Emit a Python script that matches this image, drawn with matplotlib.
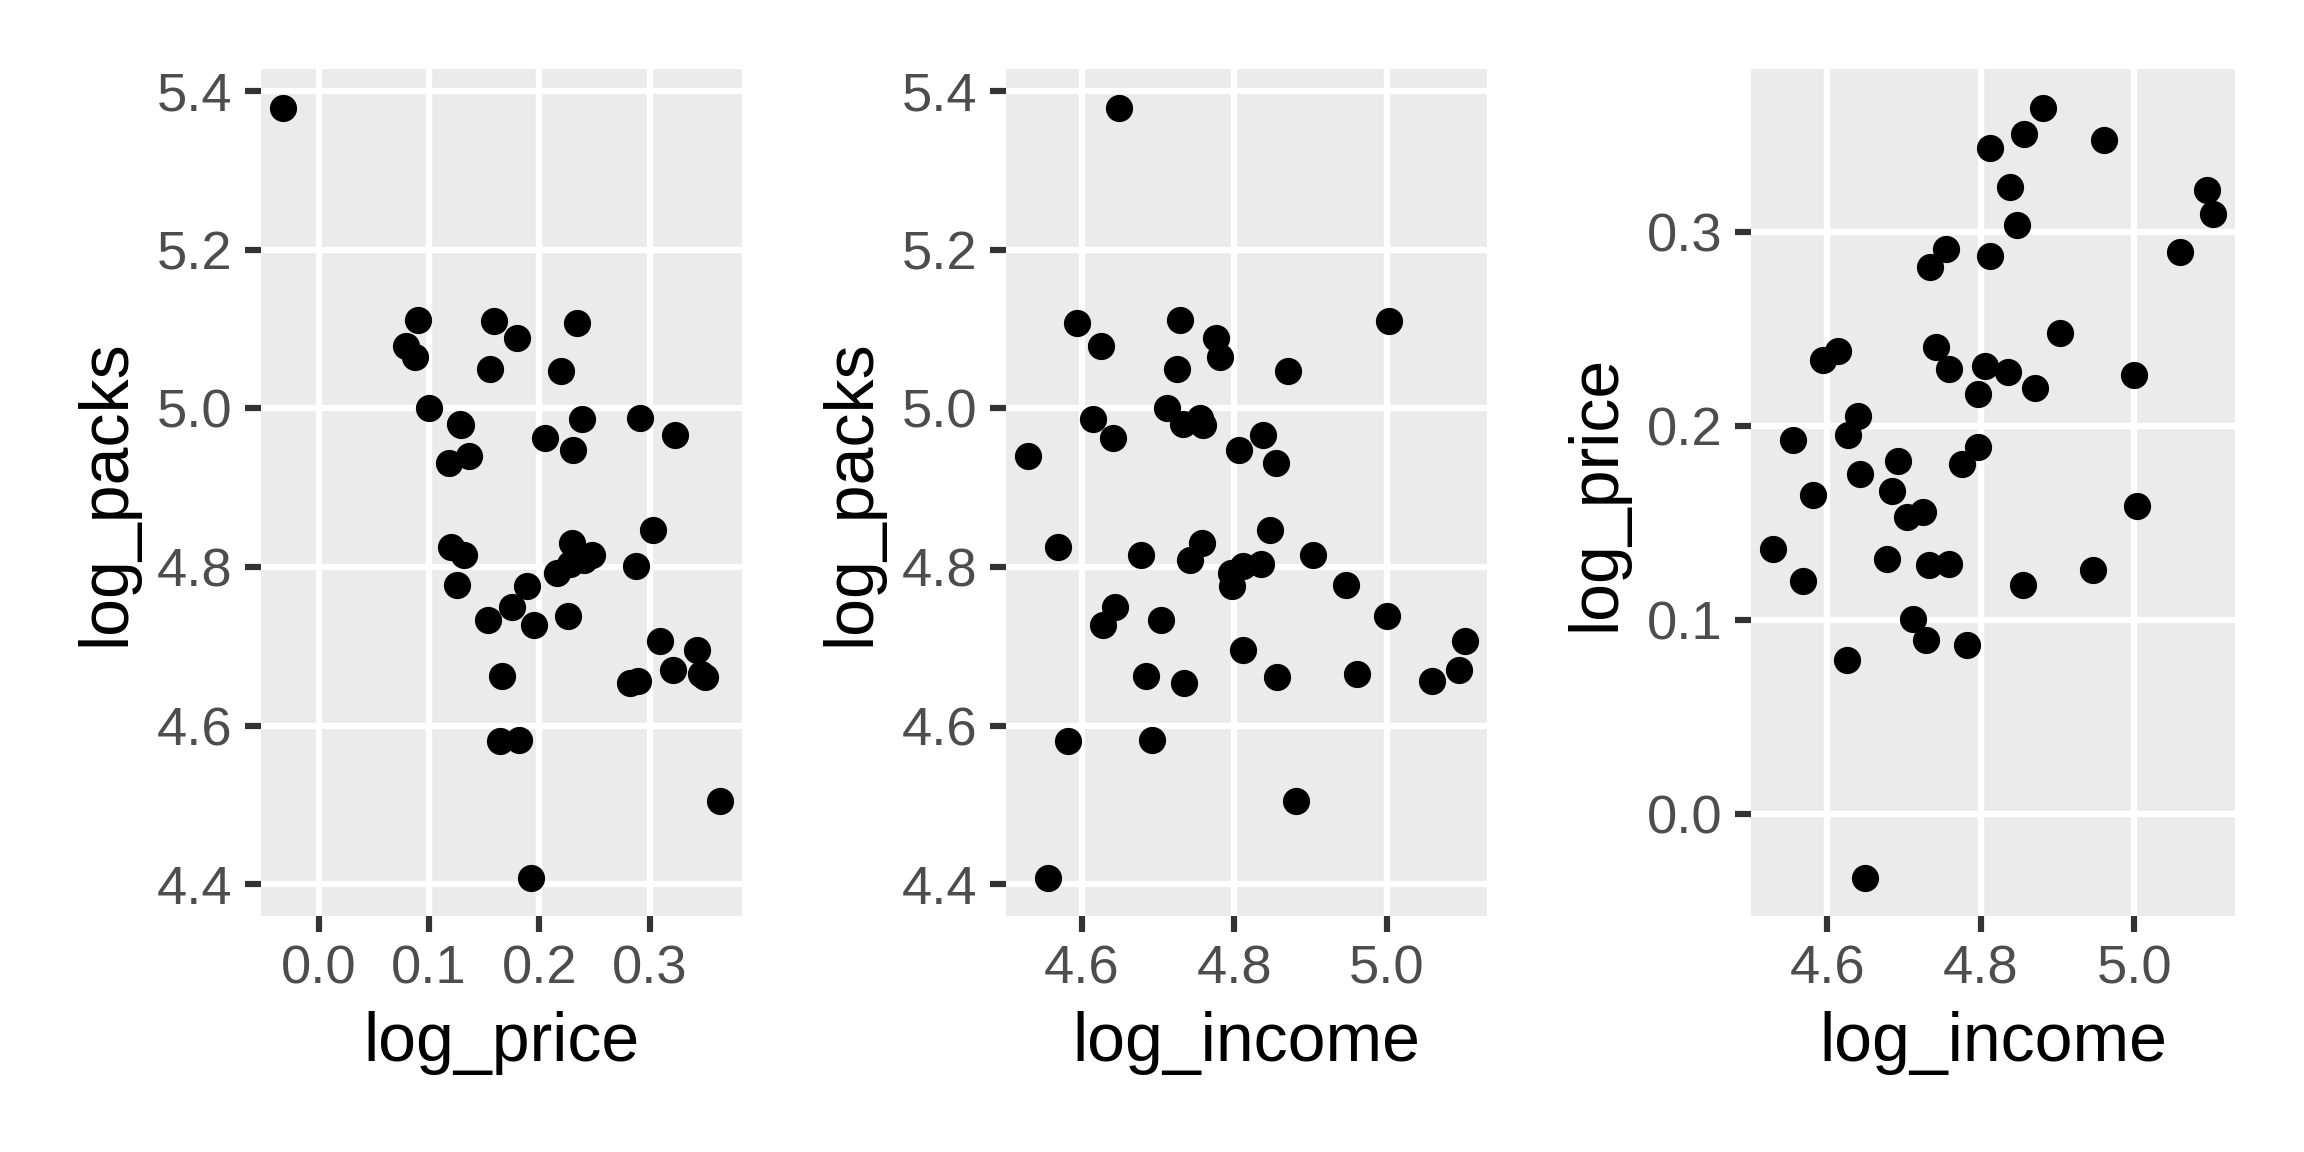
import numpy as np
import matplotlib
matplotlib.use("Agg")
import matplotlib.pyplot as plt

plt.rcParams['font.family'] = ['Liberation Sans', 'DejaVu Sans']

# CigarettesB-like data (46 states)
log_packs = [4.96213, 4.66312, 5.10709, 4.50449, 4.66983, 5.04705, 4.65637, 4.80081,
             4.97974, 4.74902, 4.81445, 5.11129, 4.80857, 4.79263, 5.37906, 4.98602,
             4.98722, 4.77751, 4.73877, 4.94744, 4.69589, 4.93990, 5.06430, 4.73313,
             4.77558, 4.96642, 5.10990, 4.70633, 4.58107, 4.66496, 4.58237, 4.97952,
             4.72720, 4.80363, 4.84693, 5.07801, 4.81545, 5.04939, 4.65398, 4.40859,
             5.08799, 4.93065, 4.66134, 4.82454, 4.83026, 5.00087]
log_price = [0.20487, 0.16640, 0.23406, 0.36399, 0.32149, 0.21929, 0.28946, 0.28733,
             0.12826, 0.17541, 0.24806, 0.08992, 0.24081, 0.21642, -0.03260, 0.23856,
             0.29106, 0.12575, 0.22613, 0.23067, 0.34297, 0.13638, 0.08731, 0.15303,
             0.18907, 0.32304, 0.15852, 0.30901, 0.16458, 0.34701, 0.18197, 0.12889,
             0.19554, 0.22784, 0.30324, 0.07944, 0.13139, 0.15547, 0.28196, 0.19260,
             0.18018, 0.11818, 0.35053, 0.12008, 0.22954, 0.10029]
log_income = [4.64039, 4.68389, 4.59435, 4.88147, 5.09472, 4.87087, 5.05960, 4.81155,
              4.73299, 4.64307, 4.90387, 4.72916, 4.74211, 4.79613, 4.64937, 4.61461,
              4.75501, 4.94692, 4.99998, 4.80620, 4.81207, 4.52938, 4.78189, 4.70417,
              4.79671, 4.83816, 5.00319, 5.10268, 4.58202, 4.96075, 4.69163, 4.75875,
              4.62730, 4.83516, 4.84670, 4.62549, 4.67747, 4.72525, 4.73437, 4.55586,
              4.77578, 4.85490, 4.85645, 4.56859, 4.75826, 4.71169]

price_ticks = [0.0, 0.1, 0.2, 0.3]
packs_ticks = [4.4, 4.6, 4.8, 5.0, 5.2, 5.4]
income_ticks = [4.6, 4.8, 5.0]

panels = [
    (log_price, log_packs, "log_price", "log_packs", price_ticks, packs_ticks),
    (log_income, log_packs, "log_income", "log_packs", income_ticks, packs_ticks),
    (log_income, log_price, "log_income", "log_price", income_ticks, price_ticks),
]

fig = plt.figure(figsize=(8, 4), dpi=288)
lefts = [261 / 2304, 1006 / 2304, 1751 / 2304]
widths = [481 / 2304, 481 / 2304, 484 / 2304]
bottom = 1 - 916 / 1152
height = 847 / 1152

def lims(v):
    v = np.asarray(v)
    lo, hi = v.min(), v.max()
    r = hi - lo
    return lo - 0.05 * r, hi + 0.05 * r

lw = 0.727 * 72.27 / 25.4 * 72 / 96  # ggplot linewidth in pt

for (x, y, xl, yl, xt, yt), l, w in zip(panels, lefts, widths):
    ax = fig.add_axes([l, bottom, w, height])
    ax.set_facecolor("#EBEBEB")
    for s in ax.spines.values():
        s.set_visible(False)
    ax.set_xlim(*lims(x))
    ax.set_ylim(*lims(y))
    ax.set_xticks(xt)
    ax.set_yticks(yt)
    ax.set_xticklabels([f"{t:.1f}" for t in xt])
    ax.set_yticklabels([f"{t:.1f}" for t in yt])
    ax.grid(True, color="white", linewidth=lw)
    ax.set_axisbelow(True)
    ax.tick_params(axis="both", colors="#333333", width=lw, length=4,
                   labelsize=13.6, labelcolor="#4D4D4D", pad=3.2)
    ax.plot(x, y, "o", color="black", markersize=6.8, markeredgewidth=0, zorder=3)
    ax.set_xlabel(xl, fontsize=17, color="black", labelpad=4)
    ax.set_ylabel(yl, fontsize=17, color="black", labelpad=4.5)

fig.savefig("out.png", dpi=288, facecolor="white")
